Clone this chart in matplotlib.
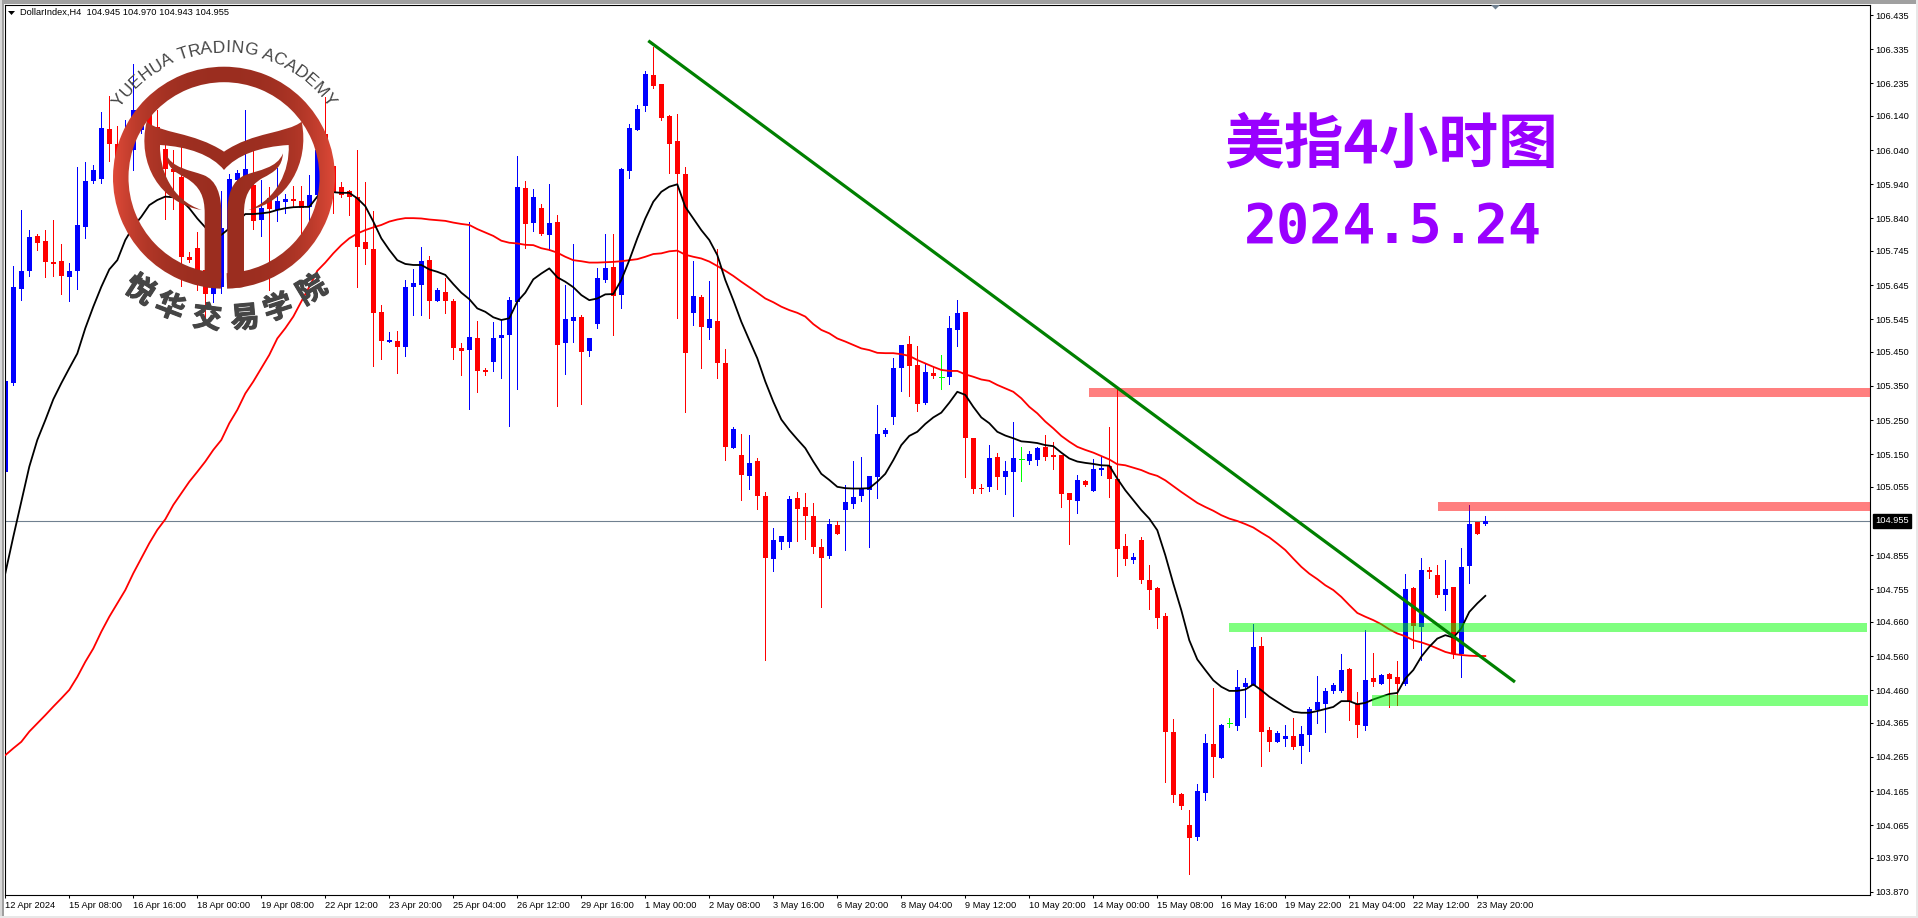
import numpy as np
import matplotlib
matplotlib.use("Agg")
import matplotlib.pyplot as plt
import matplotlib.patheffects as pe
from matplotlib.patches import Rectangle, Wedge, PathPatch
from matplotlib.path import Path
from matplotlib.font_manager import FontProperties
from matplotlib.textpath import text_to_path

opens = [
    105.098,105.359,105.635,105.686,105.789,105.774,105.713,105.716,105.669,105.686,
    105.815,105.950,105.955,106.102,106.058,106.040,106.040,106.099,106.147,106.108,
    106.043,105.985,105.962,105.727,105.754,105.689,105.619,105.640,105.806,105.952,
    105.943,105.938,105.835,105.899,105.865,105.889,105.896,105.891,105.874,105.909,
    106.087,105.993,105.932,105.920,105.904,105.771,105.751,105.566,105.479,105.482,
    105.464,105.640,105.645,105.718,105.599,105.625,105.599,105.461,105.455,105.490,
    105.397,105.420,105.490,105.499,105.596,105.929,105.827,105.871,105.792,105.830,
    105.476,105.540,105.552,105.452,105.531,105.660,105.698,105.616,105.979,106.099,
    106.169,106.260,106.234,106.140,106.067,105.971,105.563,105.610,105.520,105.540,
    105.417,105.169,105.148,105.087,105.131,105.028,104.844,104.894,104.894,105.022,
    104.996,104.970,104.879,104.853,104.943,104.987,105.005,105.028,105.046,105.084,
    105.210,105.259,105.403,105.473,105.411,105.300,105.388,105.375,105.376,105.514,
    105.566,105.197,105.053,105.054,105.142,105.083,105.098,105.135,105.130,105.133,
    105.171,105.148,105.148,105.036,105.013,105.072,105.042,105.104,105.115,105.077,
    104.881,104.840,104.899,104.782,104.759,104.677,104.337,104.156,104.065,104.030,
    104.159,104.302,104.261,104.363,104.355,104.469,104.475,104.589,104.343,104.308,
    104.317,104.326,104.296,104.329,104.402,104.419,104.457,104.457,104.522,104.419,
    104.355,104.495,104.478,104.507,104.498,104.478,104.759,104.645,104.811,104.797,
    104.738,104.762,104.566,104.823,104.952,104.945]
closes = [
    105.364,105.640,105.686,105.786,105.769,105.713,105.707,105.672,105.686,105.821,
    105.950,105.982,106.105,106.058,106.011,106.089,106.157,106.147,106.089,106.050,
    105.985,105.977,105.727,105.718,105.687,105.619,105.645,105.812,105.955,105.973,
    105.985,105.833,105.871,105.867,105.891,105.897,105.891,105.870,105.909,106.040,
    105.993,105.918,105.909,105.903,105.757,105.751,105.563,105.482,105.484,105.464,
    105.640,105.651,105.716,105.599,105.631,105.599,105.461,105.452,105.493,105.394,
    105.391,105.490,105.499,105.601,105.932,105.824,105.903,105.795,105.827,105.470,
    105.546,105.552,105.449,105.490,105.666,105.695,105.613,105.985,106.105,106.160,
    106.263,106.228,106.134,106.058,105.971,105.447,105.613,105.523,105.546,105.417,
    105.172,105.224,105.090,105.125,105.028,104.847,104.899,104.911,105.019,104.990,
    104.970,104.879,104.847,104.946,104.917,105.011,105.025,105.049,105.087,105.210,
    105.221,105.403,105.470,105.408,105.297,105.391,105.379,105.375,105.520,105.563,
    105.198,105.048,105.048,105.139,105.083,105.101,105.139,105.135,105.151,105.168,
    105.142,105.142,105.034,105.016,105.074,105.059,105.107,105.110,105.077,104.873,
    104.843,104.849,104.782,104.753,104.671,104.337,104.153,104.121,104.027,104.165,
    104.305,104.264,104.358,104.363,104.469,104.481,104.586,104.337,104.308,104.334,
    104.326,104.294,104.332,104.405,104.425,104.457,104.475,104.519,104.425,104.358,
    104.489,104.484,104.504,104.492,104.478,104.756,104.647,104.811,104.805,104.738,
    104.756,104.566,104.820,104.946,104.917,104.955]
highs = [
    105.446,105.701,105.865,105.806,105.795,105.806,105.835,105.765,105.710,105.991,
    106.005,105.996,106.151,106.198,106.110,106.128,106.292,106.169,106.169,106.157,
    106.055,106.040,106.050,105.743,105.800,105.718,105.660,105.920,105.970,105.982,
    106.157,106.040,105.952,105.933,105.987,105.913,105.935,105.935,105.967,106.060,
    106.195,106.001,105.947,105.923,106.040,105.947,105.862,105.587,105.508,105.511,
    105.660,105.692,105.757,105.730,105.637,105.666,105.604,105.476,105.830,105.540,
    105.404,105.537,105.543,105.610,106.022,105.950,105.926,105.882,105.941,105.850,
    105.645,105.765,105.558,105.490,105.695,105.795,105.795,105.988,106.117,106.172,
    106.272,106.342,106.234,106.143,106.146,105.991,105.716,105.616,105.657,105.751,
    105.458,105.230,105.210,105.207,105.139,105.040,104.935,104.911,105.028,105.040,
    105.037,105.008,104.902,104.961,104.955,105.060,105.131,105.142,105.087,105.294,
    105.227,105.432,105.470,105.496,105.467,105.414,105.406,105.441,105.555,105.601,
    105.566,105.199,105.063,105.177,105.153,105.130,105.244,105.171,105.159,105.171,
    105.206,105.186,105.148,105.036,105.089,105.074,105.136,105.142,105.230,105.343,
    104.917,104.861,104.908,104.826,104.762,104.685,104.375,104.159,104.109,104.185,
    104.332,104.466,104.361,104.378,104.519,104.495,104.653,104.615,104.352,104.340,
    104.358,104.378,104.355,104.411,104.501,104.466,104.481,104.566,104.525,104.454,
    104.636,104.568,104.507,104.510,104.545,104.800,104.762,104.846,104.820,104.826,
    104.840,104.762,104.876,105.001,104.952,104.970]
lows = [
    105.095,105.354,105.601,105.672,105.748,105.669,105.672,105.619,105.599,105.634,
    105.783,105.944,105.944,106.008,105.972,106.011,105.982,106.090,106.059,106.040,
    105.838,105.868,105.642,105.713,105.631,105.548,105.597,105.622,105.796,105.933,
    105.933,105.809,105.789,105.631,105.833,105.855,105.874,105.792,105.835,105.894,
    105.962,105.855,105.903,105.850,105.640,105.707,105.408,105.429,105.479,105.388,
    105.438,105.558,105.558,105.549,105.599,105.563,105.429,105.382,105.283,105.332,
    105.383,105.394,105.373,105.233,105.341,105.754,105.803,105.792,105.748,105.291,
    105.385,105.479,105.297,105.438,105.520,105.654,105.499,105.578,105.959,106.099,
    106.155,106.222,106.128,105.973,105.549,105.274,105.528,105.403,105.487,105.373,
    105.133,105.169,105.016,105.049,104.990,104.548,104.809,104.873,104.879,104.897,
    104.902,104.861,104.704,104.847,104.917,104.870,104.993,105.014,104.879,105.022,
    105.204,105.239,105.335,105.321,105.277,105.297,105.373,105.341,105.356,105.467,
    105.084,105.036,105.036,105.042,105.048,105.034,104.969,105.072,105.121,105.118,
    105.133,105.107,104.996,104.887,104.978,105.057,105.042,105.089,105.025,104.794,
    104.826,104.832,104.773,104.697,104.642,104.191,104.133,104.112,103.922,104.021,
    104.138,104.206,104.261,104.352,104.343,104.381,104.475,104.238,104.282,104.308,
    104.296,104.288,104.247,104.282,104.364,104.337,104.451,104.454,104.372,104.323,
    104.343,104.472,104.478,104.411,104.416,104.475,104.583,104.548,104.788,104.732,
    104.694,104.554,104.498,104.773,104.917,104.943]

ma_fast = [
    104.802,104.909,105.012,105.114,105.192,105.250,105.311,105.358,105.402,105.445,
    105.519,105.582,105.640,105.691,105.718,105.777,105.816,105.845,105.879,105.894,
    105.904,105.902,105.894,105.870,105.840,105.814,105.787,105.792,105.811,105.831,
    105.853,105.853,105.855,105.858,105.865,105.870,105.873,105.874,105.874,105.904,
    105.917,105.917,105.915,105.915,105.899,105.876,105.831,105.782,105.748,105.718,
    105.707,105.704,105.704,105.691,105.684,105.675,105.648,105.623,105.604,105.577,
    105.567,105.551,105.543,105.548,105.597,105.623,105.662,105.679,105.694,105.668,
    105.655,105.639,105.616,105.601,105.606,105.618,105.619,105.660,105.718,105.782,
    105.840,105.889,105.918,105.933,105.940,105.874,105.840,105.806,105.777,105.733,
    105.660,105.601,105.538,105.484,105.431,105.363,105.304,105.252,105.221,105.194,
    105.168,105.129,105.093,105.075,105.055,105.051,105.050,105.050,105.051,105.070,
    105.093,105.133,105.177,105.204,105.216,105.239,105.258,105.272,105.301,105.333,
    105.324,105.289,105.258,105.241,105.216,105.205,105.197,105.188,105.186,105.183,
    105.177,105.174,105.155,105.138,105.129,105.125,105.122,105.118,105.117,105.079,
    105.045,105.016,104.987,104.962,104.928,104.855,104.772,104.694,104.606,104.550,
    104.519,104.489,104.470,104.458,104.458,104.462,104.477,104.460,104.441,104.426,
    104.411,104.397,104.394,104.394,104.399,104.405,104.411,104.428,104.428,104.419,
    104.423,104.433,104.441,104.449,104.452,104.494,104.519,104.558,104.587,104.611,
    104.621,104.614,104.641,104.689,104.714,104.736]
ma_slow = [
    104.270,104.290,104.309,104.339,104.363,104.387,104.412,104.436,104.461,104.499,
    104.543,104.582,104.631,104.675,104.714,104.753,104.802,104.846,104.890,104.929,
    104.960,105.002,105.036,105.070,105.099,105.129,105.163,105.192,105.241,105.280,
    105.328,105.363,105.402,105.441,105.489,105.519,105.553,105.597,105.640,105.687,
    105.711,105.738,105.762,105.782,105.796,105.806,105.814,105.821,105.831,105.837,
    105.841,105.841,105.840,105.837,105.835,105.833,105.828,105.824,105.821,105.809,
    105.799,105.789,105.775,105.769,105.767,105.763,105.762,105.753,105.748,105.740,
    105.728,105.718,105.715,105.711,105.711,105.712,105.713,105.715,105.718,105.721,
    105.728,105.736,105.738,105.744,105.746,105.734,105.728,105.723,105.714,105.701,
    105.687,105.672,105.655,105.639,105.623,105.606,105.595,105.582,105.572,105.564,
    105.553,105.531,105.514,105.504,105.489,105.480,105.470,105.460,105.455,105.447,
    105.446,105.446,105.443,105.438,105.426,105.416,105.406,105.397,105.394,105.394,
    105.384,105.377,105.369,105.365,105.353,105.343,105.333,105.314,105.289,105.270,
    105.246,105.226,105.204,105.187,105.172,105.163,105.155,105.145,105.135,105.121,
    105.118,105.111,105.104,105.094,105.087,105.074,105.057,105.040,105.024,105.008,
    104.996,104.985,104.972,104.962,104.955,104.946,104.936,104.921,104.907,104.889,
    104.870,104.845,104.821,104.801,104.785,104.767,104.753,104.733,104.709,104.686,
    104.675,104.665,104.653,104.638,104.626,104.618,104.606,104.600,104.592,104.582,
    104.572,104.566,104.563,104.561,104.560,104.560]

price_ticks = [106.435,106.335,106.235,106.140,106.040,105.940,105.840,105.745,105.645,
               105.545,105.450,105.350,105.250,105.150,105.055,104.855,104.755,104.660,
               104.560,104.460,104.365,104.265,104.165,104.065,103.970,103.870]
time_labels = ["12 Apr 2024","15 Apr 08:00","16 Apr 16:00","18 Apr 00:00","19 Apr 08:00",
               "22 Apr 12:00","23 Apr 20:00","25 Apr 04:00","26 Apr 12:00","29 Apr 16:00",
               "1 May 00:00","2 May 08:00","3 May 16:00","6 May 20:00","8 May 04:00",
               "9 May 12:00","10 May 20:00","14 May 00:00","15 May 08:00","16 May 16:00",
               "19 May 22:00","21 May 04:00","22 May 12:00","23 May 20:00"]
last_price = 104.955

# horizontal zones: start bar, end bar, upper price, lower price
zone_start = [135.46, 179.08, 152.96, 170.84]
zone_end = [233.09, 233.09, 232.7, 232.84]
zone_top = [105.344, 105.010, 104.656, 104.446]
zone_bottom = [105.318, 104.984, 104.630, 104.413]
zone_color = ["#ff0000", "#ff0000", "#00ff00", "#00ff00"]

trend_bars = [80.375, 188.71]
trend_prices = [106.360, 104.484]

W, H = 1918, 918
LEFT, RIGHT, TOP, BOTTOM = 4.7, 1870.0, 4.5, 895.3
ui_font = "Liberation Sans"

fig = plt.figure(figsize=(W / 100, H / 100), dpi=100, facecolor="white")
ax = fig.add_axes([LEFT / W, 1 - BOTTOM / H, (RIGHT - LEFT) / W, (BOTTOM - TOP) / H])

bars = np.arange(len(opens))
o, h, l, c = map(np.array, (opens, highs, lows, closes))
colors = np.where(c > o, "#0000ff", np.where(c < o, "#ff0000", "#00ff00"))

ax.axhline(last_price, color="#708090", lw=0.8, zorder=1)
ax.vlines(bars, l, h, colors=colors, lw=0.55, antialiased=False, zorder=2)
ax.bar(bars, np.abs(c - o), bottom=np.minimum(o, c), width=0.66, color=colors, lw=0, antialiased=False, zorder=2)
flat = c == o
ax.hlines(c[flat], bars[flat] - 0.33, bars[flat] + 0.33, colors="#00ff00", lw=0.55, antialiased=False, zorder=2)

ax.plot(bars, ma_slow, color="#ff0000", lw=1.3, zorder=3)
ax.plot(bars, ma_fast, color="#000000", lw=1.3, zorder=4)

for x0, x1, top, bot, col in zip(zone_start, zone_end, zone_top, zone_bottom, zone_color):
    ax.add_patch(Rectangle((x0, bot), x1 - x0, top - bot, facecolor=col, alpha=0.5, lw=0, zorder=5))
ax.plot(trend_bars, trend_prices, color="#008000", lw=2.3, solid_capstyle="butt", zorder=6)

px_per_bar = 8.0
ax.set_xlim((LEFT - 5.3) / px_per_bar, (RIGHT - 5.3) / px_per_bar)
ax.set_ylim(103.860, 106.466)

ax.yaxis.tick_right()
ax.set_yticks(price_ticks)
ax.set_yticklabels([f"{p:.3f}" for p in price_ticks], fontsize=6.7, family=ui_font)
ax.set_xticks(np.arange(len(time_labels)) * 8)
ax.set_xticklabels(time_labels, fontsize=6.7, family=ui_font, ha="left")
ax.tick_params(axis="y", length=2.2, width=0.75, pad=1.8)
ax.tick_params(axis="x", length=2.2, width=0.75, pad=2.0)
for side in ax.spines.values():
    side.set_linewidth(0.8)

ax.text(1 + 5 / (RIGHT - LEFT), last_price, f"{last_price:.3f}", transform=ax.get_yaxis_transform(),
        color="white", fontsize=6.7, family=ui_font, va="center", ha="left",
        bbox=dict(facecolor="black", edgecolor="black", pad=1.5), clip_on=False)

# overlay in pixel units for the window frame, header, title and logo
ov = fig.add_axes([0, 0, 1, 1], facecolor="none")
ov.set_axis_off()

ov.add_patch(Rectangle((0, 0), W, 3.5, color="#a0a0a0", lw=0))
ov.add_patch(Rectangle((0, 0), 1.5, H, color="#d8d8d8", lw=0))
ov.add_patch(Rectangle((1.5, 0), 2.2, H, color="#a0a0a0", lw=0))
ov.add_patch(Rectangle((W - 2.5, 0), 2.5, H, color="#e8e8e8", lw=0))
ov.add_patch(Rectangle((0, H - 2.5), W, 2.5, color="#e8e8e8", lw=0))

ov.fill([8, 15, 11.5], [11, 11, 15], color="black", lw=0)
ov.fill([1491, 1500, 1495.5], [5, 5, 9.5], color="#708090", lw=0)
ov.text(20, 12.5, "DollarIndex,H4  104.945 104.970 104.943 104.955", fontsize=6.7,
        family=ui_font, va="center", ha="left", color="black")

purple = "#9900ff"
ov.text(1391, 145, "美指4小时图", fontsize=43, family=["Noto Sans CJK SC", "DejaVu Sans"],
        weight="bold", color=purple, ha="center", va="center")
ov.text(1393, 228, "2024.5.24", fontsize=39.6, family="DejaVu Sans Mono", weight="bold",
        color=purple, ha="center", va="center")

# logo, shapes given in 3x pixel units
cx, cy = 224.0, 177.7
grad = np.linspace(-1, 1, 256)
edge, mid = np.array([0.88, 0.29, 0.22]), np.array([0.61, 0.18, 0.125])
t = np.abs(grad)[None, :, None] ** 3
grad_img = mid + (edge - mid) * t


def shape(points):
    verts = np.array([p[1] for p in points], float) / 3
    codes = [p[0] for p in points]
    return Path(verts, codes)


M, C, L = Path.MOVETO, Path.CURVE4, Path.LINETO


def curve(a, b, end):
    return [(C, a), (C, b), (C, end)]


leaf = [(M, (440, 365))] + curve((480, 400), (580, 395), (672, 455)) + curve((760, 395), (860, 400), (905, 365)) \
    + curve((930, 490), (860, 610), (745, 630)) + curve((830, 600), (870, 510), (866, 435)) \
    + curve((780, 440), (710, 465), (672, 510)) + curve((635, 465), (565, 440), (480, 435)) \
    + curve((478, 510), (515, 600), (605, 630)) + curve((480, 610), (410, 490), (440, 365))
stem = [(M, (497, 460))] + curve((515, 505), (570, 510), (610, 525)) + curve((650, 540), (664, 585), (664, 640)) \
    + [(L, (664, 830))] + curve((664, 855), (640, 870), (614, 860)) + [(L, (614, 815)), (L, (614, 640))] \
    + curve((614, 590), (600, 560), (560, 535)) + curve((520, 515), (500, 500), (497, 460))
stem_r = [(code, (1346 - x, y)) for code, (x, y) in stem]

ring = Wedge((cx, cy), 111, 91.6, 88.4 + 360, width=15.5, lw=0, transform=ov.transData)
pieces = [PathPatch(shape(p), lw=0, transform=ov.transData) for p in (leaf, stem, stem_r)] + [ring]
for piece in pieces:
    img = ov.imshow(grad_img, extent=(cx - 112, cx + 112, cy + 112, cy - 112), aspect="auto", zorder=8)
    img.set_clip_path(piece)

gray = "#454545"
arc_text = "YUEHUA TRADING ACADEMY"
arc_prop = FontProperties(family="Liberation Sans", size=12.5)
widths = [text_to_path.get_text_width_height_descent(ch, arc_prop, False)[0] * 100 / 72 for ch in arc_text]
r_arc = 125.5
pos = -sum(widths) / 2
for ch, w in zip(arc_text, widths):
    th = (pos + w / 2) / r_arc
    ov.text(cx + r_arc * np.sin(th), cy - r_arc * np.cos(th), ch, fontproperties=arc_prop, color=gray,
            rotation=-np.degrees(th), rotation_mode="anchor", ha="center", va="baseline", zorder=9)
    pos += w

cn_chars = "悦华交易学院"
cn_x = [140, 170, 207, 245, 278, 312]
cn_y = [290, 307, 318, 318, 308, 290]
cn_rot = [-33, -21, -7, 5, 18, 31]
for ch, x, y, rot in zip(cn_chars, cn_x, cn_y, cn_rot):
    ov.text(x, y, ch, fontsize=21, family="Noto Sans CJK SC", weight="bold", color=gray,
            rotation=rot, rotation_mode="anchor", ha="center", va="center", zorder=9,
            path_effects=[pe.withStroke(linewidth=0.8, foreground=gray)])

ov.set_xlim(0, W)
ov.set_ylim(H, 0)

fig.savefig("out.png", dpi=100, facecolor="white")
